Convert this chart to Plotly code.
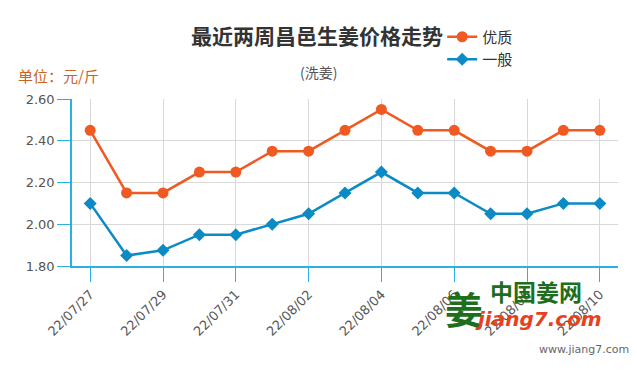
import plotly.graph_objects as go

dates = ["22/07/27", "22/07/28", "22/07/29", "22/07/30", "22/07/31", "22/08/01", "22/08/02",
         "22/08/03", "22/08/04", "22/08/05", "22/08/06", "22/08/07", "22/08/08", "22/08/09", "22/08/10"]
premium = [2.45, 2.15, 2.15, 2.25, 2.25, 2.35, 2.35, 2.45, 2.55, 2.45, 2.45, 2.35, 2.35, 2.45, 2.45]
normal = [2.10, 1.85, 1.875, 1.95, 1.95, 2.00, 2.05, 2.15, 2.25, 2.15, 2.15, 2.05, 2.05, 2.10, 2.10]
tick_dates = dates[::2]
y_ticks = [1.8, 2.0, 2.2, 2.4, 2.6]

ORANGE = "#f05a22"
BLUE = "#0b8bc6"
AXIS_BLUE = "#2ab0e4"
CJK = "Noto Sans CJK SC, DejaVu Sans, sans-serif"

# page positions (reference pixels) -> paper coords of the plot area
PL, PT, PW, PH = 72, 97, 546, 169
def px(x):
    return (x - PL) / PW
def py(y):
    return (PT + PH - y) / PH

fig = go.Figure()
fig.add_trace(go.Scatter(x=dates, y=premium, name="优质", mode="lines+markers",
                         line=dict(color=ORANGE, width=2.5),
                         marker=dict(symbol="circle", size=11, color=ORANGE)))
fig.add_trace(go.Scatter(x=dates, y=normal, name="一般", mode="lines+markers",
                         line=dict(color=BLUE, width=2.5),
                         marker=dict(symbol="diamond", size=10, color=BLUE)))

# the page body adds an 8px offset, so the figure is 8px smaller and shifted
fig.update_layout(
    width=629, height=362,
    margin=dict(l=PL - 8, r=629 - (PL - 8) - PW, t=PT - 8, b=362 - (PT - 8) - PH),
    paper_bgcolor="white", plot_bgcolor="white",
    font=dict(family=CJK, color="#555555"),
    showlegend=True,
    legend=dict(x=0.678, y=1.47, xanchor="left", yanchor="top",
                font=dict(size=15, color="#333333", family=CJK),
                bgcolor="rgba(0,0,0,0)", itemwidth=30, tracegroupgap=0),
    xaxis=dict(type="category", range=[-0.5, 14.5],
               tickmode="array", tickvals=tick_dates, ticktext=tick_dates,
               tickangle=-45, ticks="outside", ticklen=14, tickcolor=AXIS_BLUE,
               showline=True, linecolor=AXIS_BLUE, linewidth=1.5,
               showgrid=True, gridcolor="#d9d9d9", gridwidth=1,
               tickfont=dict(family="DejaVu Sans, Verdana, sans-serif", size=13, color="#555555")),
    yaxis=dict(range=[1.8, 2.6], tickmode="array", tickvals=y_ticks, tickformat=".2f",
               ticks="outside", ticklen=13, tickcolor=AXIS_BLUE,
               showline=True, linecolor=AXIS_BLUE, linewidth=1.5,
               showgrid=True, gridcolor="#d9d9d9", gridwidth=1, zeroline=False,
               tickfont=dict(family="DejaVu Sans, Verdana, sans-serif", size=13, color="#555555")),
    annotations=[
        dict(text="<b>最近两周昌邑生姜价格走势</b>", xref="paper", yref="paper",
             x=px(317), y=py(32), xanchor="center", yanchor="middle",
             showarrow=False, font=dict(size=21, color="#333333", family=CJK)),
        dict(text="(洗姜)", xref="paper", yref="paper",
             x=px(318), y=py(70), xanchor="center", yanchor="middle",
             showarrow=False, font=dict(size=14, color="#555555", family=CJK)),
        dict(text="单位：元/斤", xref="paper", yref="paper",
             x=px(16), y=py(73), xanchor="left", yanchor="middle",
             showarrow=False, font=dict(size=15, color="#c8641e", family=CJK)),
        dict(text="<b>姜</b>", xref="paper", yref="paper",
             x=px(464), y=py(308), xanchor="center", yanchor="middle",
             showarrow=False, font=dict(size=38, color="#1d6e1d", family=CJK)),
        dict(text="<b>中国姜网</b>", xref="paper", yref="paper",
             x=px(536), y=py(291), xanchor="center", yanchor="middle",
             showarrow=False, font=dict(size=23, color="#1d6e1d", family=CJK)),
        dict(text="<b><i>jiang7.com</i></b>", xref="paper", yref="paper",
             x=px(538), y=py(320), xanchor="center", yanchor="middle",
             showarrow=False, font=dict(size=20, color="#e8401c", family="DejaVu Sans, sans-serif")),
        dict(text="www.jiang7.com", xref="paper", yref="paper",
             x=px(631), y=py(351), xanchor="right", yanchor="middle",
             showarrow=False, font=dict(size=11, color="#666666", family="DejaVu Sans, sans-serif")),
    ],
)

fig.write_html("out.html")
